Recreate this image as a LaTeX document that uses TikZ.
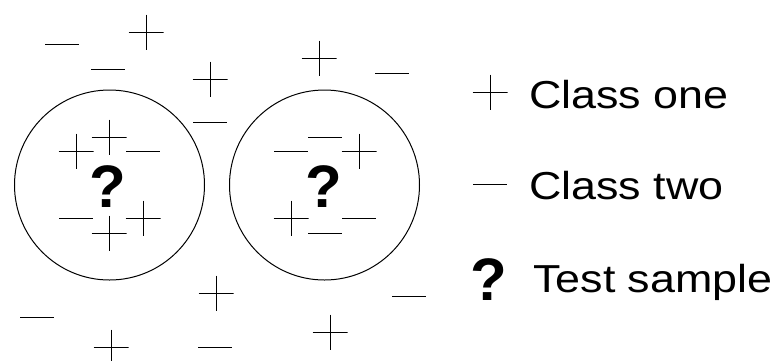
\documentclass[tikz,border=0pt]{standalone}
\usepackage{fontspec}
\setmainfont{Liberation Sans}
\newfontfamily\legendfont[FakeStretch=1.15]{Liberation Sans}

\tikzset{
  sym/.style={inner sep=0pt, outer sep=0pt},
  plussign/.style={sym, minimum size=35pt,
    path picture={\draw[line width=1pt] (path picture bounding box.north) -- (path picture bounding box.south)
      (path picture bounding box.west) -- (path picture bounding box.east);}},
  minussign/.style={sym, minimum width=34pt, minimum height=2pt,
    path picture={\draw[line width=1pt] (path picture bounding box.west) -- (path picture bounding box.east);}},
  region/.style={circle, draw, line width=1pt, minimum size=190pt, inner sep=0pt},
  query/.style={font=\fontsize{60}{60}\selectfont\bfseries, inner sep=0pt, anchor=base},
  legendtext/.style={font=\legendfont\fontsize{39}{45}\selectfont, inner sep=0pt, anchor=base west}
}

\begin{document}
\begin{tikzpicture}[x=1pt, y=-1pt]
  \useasboundingbox (0,0) rectangle (782,360);

  % neighbourhoods of the two test samples
  \node[region] (c1) at (109.5,185) {};
  \node[region] (c2) at (324.5,185) {};
  \node[query] (q1) at (108,207) {?};
  \node[query] (q2) at (324,207) {?};

  % class one
  \foreach \x/\y [count=\i] in {146/32, 210/79, 76/151, 109/137, 143/218, 109/233, 216/293,
      111/347, 319/58, 359/151, 291/218, 330/332}
    \node[plussign] (p\i) at (\x,\y) {};

  % class two
  \foreach \x/\y [count=\i] in {62/44, 108/69, 210/122, 143/151, 76/218, 37/317, 215/347,
      392/73, 291/151, 325/137, 359/218, 325/233, 409/296}
    \node[minussign] (m\i) at (\x,\y) {};

  % legend
  \node[plussign] (lp) at (490,92) {};
  \node[minussign] (lm) at (490,184) {};
  \node[query] (lq) at (489,300) {?};
  \node[legendtext] (t1) at (529,108) {Class one};
  \node[legendtext] (t2) at (529,199) {Class two};
  \node[legendtext] (t3) at (533,292) {Test sample};
\end{tikzpicture}
\end{document}
